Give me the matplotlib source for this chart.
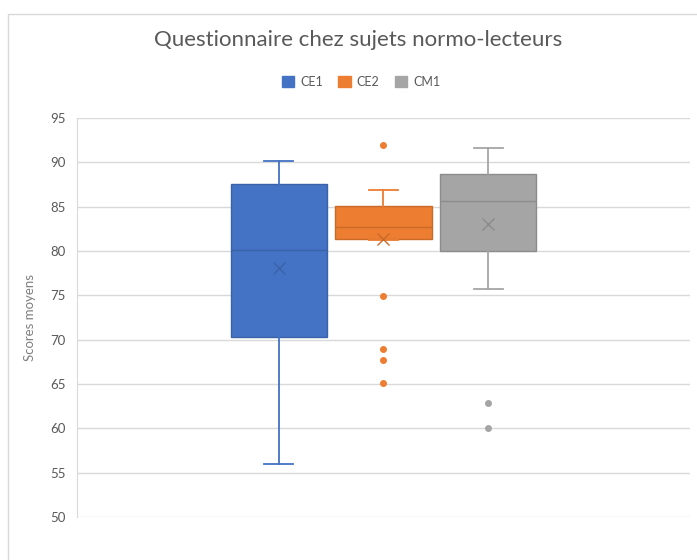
import matplotlib
matplotlib.use("Agg")
import matplotlib.pyplot as plt
from matplotlib.patches import Rectangle, Patch

# Box plot statistics
groups = ["CE1", "CE2", "CM1"]
whisker_low = [56.0, 81.2, 75.7]
q1 = [70.3, 81.3, 80.0]
median = [80.1, 82.7, 85.6]
q3 = [87.6, 85.1, 88.7]
whisker_high = [90.2, 86.9, 91.6]
means = [78.1, 81.4, 83.0]
outliers = [[], [91.9, 74.9, 69.0, 67.7, 65.1], [62.9, 60.0]]

colors = ["#4472C4", "#ED7D31", "#A5A5A5"]
dark = ["#3A62A8", "#C96A28", "#8C8C8C"]
positions = [-1, 0, 1]

plt.rcParams['font.family'] = ['Lato', 'DejaVu Sans']

fig = plt.figure(figsize=(6.97, 5.6), dpi=100)

# chart border
fig.patches.append(Rectangle((8 / 697, -0.1), 1.2, 1 - 14 / 560 + 0.1,
                             transform=fig.transFigure, fill=False,
                             edgecolor="#D9D9D9", linewidth=1))

ax = fig.add_axes([77 / 697, 1 - 517 / 560, (690 - 77) / 697, (517 - 118) / 560])

stats = []
for i, g in enumerate(groups):
    stats.append({"label": g, "whislo": whisker_low[i], "q1": q1[i], "med": median[i],
                  "q3": q3[i], "whishi": whisker_high[i], "mean": means[i],
                  "fliers": outliers[i]})

for i, s in enumerate(stats):
    ax.bxp([s], positions=[positions[i]], widths=0.915, patch_artist=True,
           showmeans=True, manage_ticks=False,
           boxprops=dict(facecolor=colors[i], edgecolor=dark[i], linewidth=1),
           medianprops=dict(color=dark[i], linewidth=1),
           whiskerprops=dict(color=colors[i], linewidth=1.3),
           capprops=dict(color=colors[i], linewidth=1.3),
           capwidths=0.27,
           meanprops=dict(marker="x", markeredgecolor=dark[i], markersize=9,
                          markeredgewidth=1),
           flierprops=dict(marker="o", markerfacecolor=colors[i],
                           markeredgecolor=colors[i], markersize=4))

ax.set_xlim(-2.92, 2.92)
ax.set_ylim(50, 95)
ax.set_yticks(range(50, 96, 5))
ax.set_xticks([])
ax.grid(axis="y", color="#D9D9D9", linewidth=1)
ax.set_axisbelow(True)
for sp in ["top", "right", "bottom"]:
    ax.spines[sp].set_visible(False)
ax.spines["left"].set_color("#D9D9D9")
ax.tick_params(axis="y", length=0, labelsize=9.5, labelcolor="#595959", pad=8)
ax.set_ylabel("Scores moyens", fontsize=9.5, color="#7F7F7F", labelpad=10)

fig.text(358 / 697, 1 - 40 / 560, "Questionnaire chez sujets normo-lecteurs",
         ha="center", va="center", fontsize=16, color="#595959")

handles = [Patch(facecolor=c, edgecolor=c) for c in colors]
fig.legend(handles, groups, loc="center", bbox_to_anchor=(361 / 697, 1 - 82 / 560),
           ncol=3, frameon=False, fontsize=9, labelcolor="#595959",
           handlelength=1.0, handleheight=1.0, handletextpad=0.5, columnspacing=1.2)

fig.savefig("out.png", dpi=100)
